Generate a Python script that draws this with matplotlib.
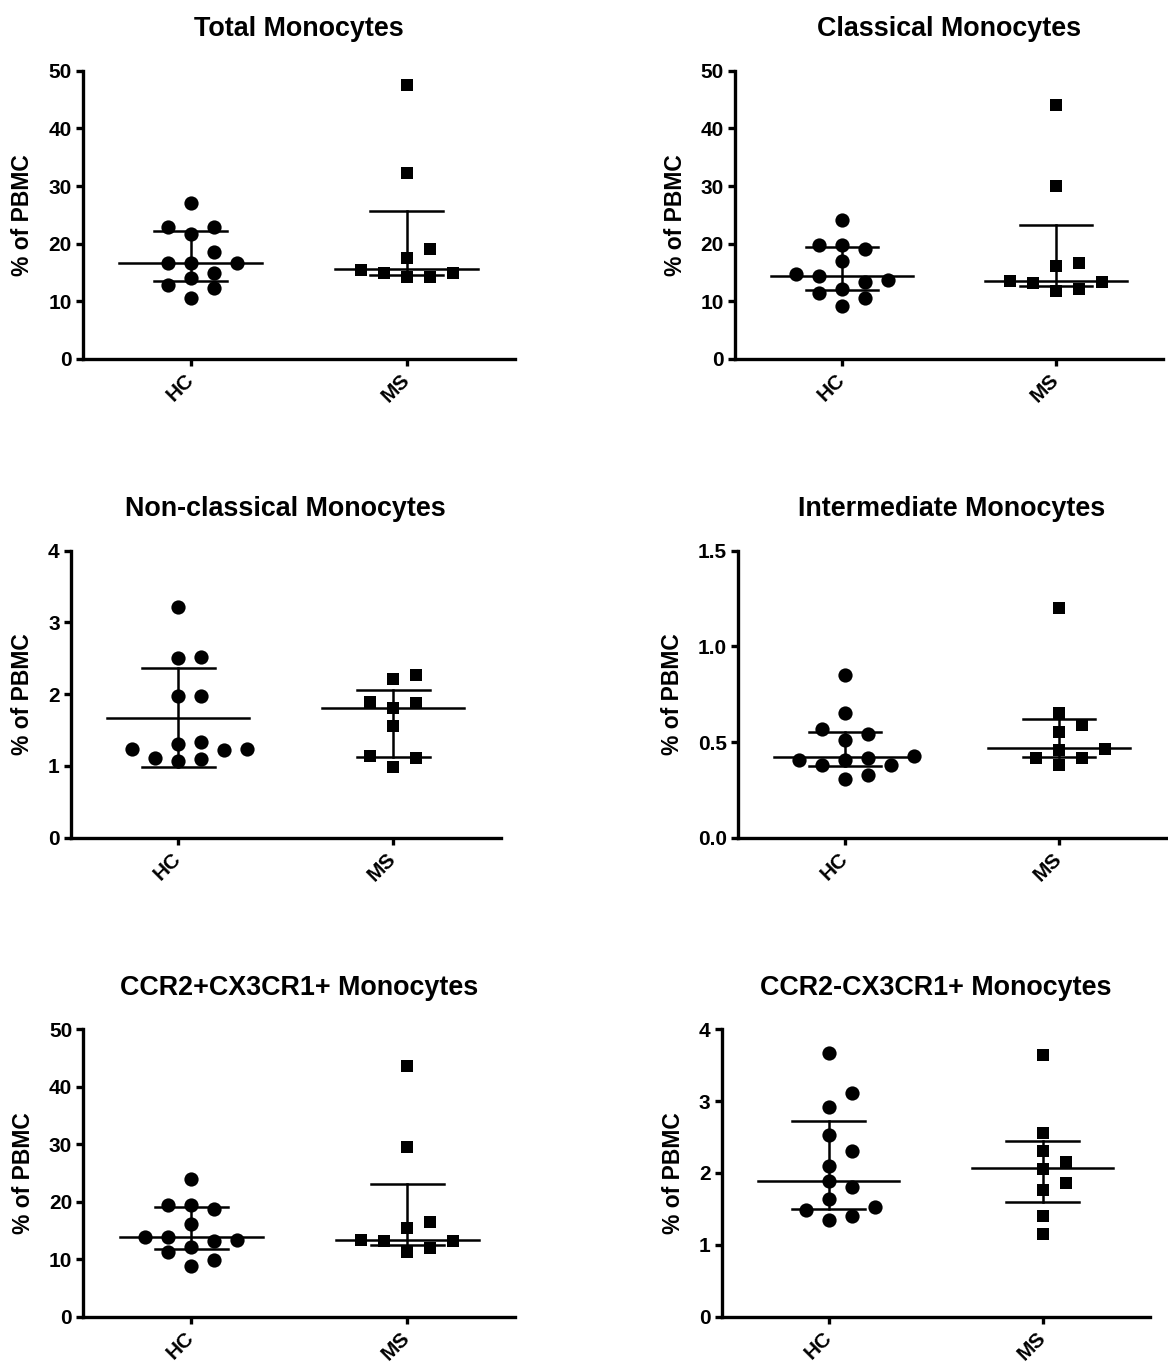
import matplotlib
matplotlib.use("Agg")
import matplotlib.pyplot as plt
import numpy as np

plt.rcParams['font.family'] = ['Liberation Sans', 'DejaVu Sans']
plt.rcParams['font.weight'] = 'bold'

groups = ["HC", "MS"]
titles = ["Total Monocytes", "Classical Monocytes", "Non-classical Monocytes",
          "Intermediate Monocytes", "CCR2+CX3CR1+ Monocytes", "CCR2-CX3CR1+ Monocytes"]
ymax = [50, 50, 4, 1.5, 50, 4]
ystep = [10, 10, 1, 0.5, 10, 1]

# values, % of PBMC
total_hc = [27.0, 22.9, 22.9, 21.6, 18.5, 16.7, 16.7, 16.7, 15.0, 14.0, 12.9, 12.3, 10.6]
total_ms = [47.5, 32.2, 19.0, 17.6, 15.5, 14.9, 14.9, 14.3, 14.3]
classical_hc = [24.1, 19.8, 19.8, 19.0, 17.0, 14.7, 14.4, 13.7, 13.4, 12.1, 11.4, 10.5, 9.2]
classical_ms = [44.0, 30.0, 16.6, 16.1, 13.5, 13.2, 13.4, 12.1, 11.8]
nonclass_hc = [3.21, 2.50, 2.52, 1.97, 1.97, 1.33, 1.31, 1.23, 1.23, 1.22, 1.09, 1.11, 1.07]
nonclass_ms = [2.27, 2.21, 1.81, 1.89, 1.88, 1.55, 1.14, 1.11, 0.98]
interm_hc = [0.85, 0.65, 0.568, 0.51, 0.54, 0.427, 0.418, 0.406, 0.406, 0.378, 0.378, 0.328, 0.307]
interm_ms = [1.20, 0.65, 0.589, 0.551, 0.463, 0.458, 0.418, 0.418, 0.378]
ccr2pos_hc = [23.9, 19.4, 19.4, 18.7, 16.2, 13.9, 13.9, 13.2, 13.3, 12.1, 11.2, 9.9, 8.9]
ccr2pos_ms = [43.6, 29.5, 16.4, 15.5, 13.3, 13.2, 13.2, 11.9, 11.3]
ccr2neg_hc = [3.675, 3.12, 2.92, 2.53, 2.30, 2.10, 1.89, 1.80, 1.64, 1.52, 1.48, 1.40, 1.34]
ccr2neg_ms = [3.64, 2.56, 2.31, 2.16, 2.06, 1.86, 1.77, 1.40, 1.15]

# centre line and error bar ends as drawn in the figure: (HC, MS)
centre = [(16.7, 15.55), (14.4, 13.5), (1.67, 1.81), (0.420, 0.467), (13.9, 13.3), (1.89, 2.07)]
err_lo = [(13.5, 14.57), (11.9, 12.6), (0.98, 1.12), (0.376, 0.420), (11.7, 12.5), (1.50, 1.59)]
err_hi = [(22.25, 25.7), (19.4, 23.3), (2.37, 2.06), (0.552, 0.618), (19.1, 23.0), (2.73, 2.44)]

data = [(total_hc, total_ms), (classical_hc, classical_ms), (nonclass_hc, nonclass_ms),
        (interm_hc, interm_ms), (ccr2pos_hc, ccr2pos_ms), (ccr2neg_hc, ccr2neg_ms)]

W, H = 1168, 1365
# axes boxes in pixels: left, right, top, bottom
boxes = [(82.7, 514.7, 70.7, 359), (735, 1163, 70.7, 359),
         (70.8, 500.8, 550.7, 837.7), (738, 1166, 550.7, 837.7),
         (83.3, 515.3, 1029.3, 1316.7), (721.7, 1149.7, 1029.3, 1316.7)]


def swarm(vals, ypx, xpx, step=23.0, dm=15.0):
    # simple column scatter: put each point as near the centre as it fits
    vals = np.asarray(vals, float)
    offs = np.zeros(len(vals))
    placed = []
    cands = [0]
    for k in range(1, 20):
        cands += [k, -k]
    for i in np.argsort(vals):
        y = vals[i] * ypx
        for k in cands:
            x = k * step / 2
            if all(abs(x - px) >= step * 0.98 or abs(y - py) >= dm for px, py in placed):
                break
        placed.append((x, y))
        offs[i] = x / xpx
    return offs


fig = plt.figure(figsize=(W / 100, H / 100), dpi=100)

for n in range(6):
    l, r, t, b = boxes[n]
    ax = fig.add_axes([l / W, (H - b) / H, (r - l) / W, (b - t) / H])
    ax.set_xlim(-0.5, 1.5)
    ax.set_ylim(0, ymax[n])
    ypx = (b - t) / ymax[n]
    xpx = (r - l) / 2.0

    for g in range(2):
        vals = data[n][g]
        xs = g + swarm(vals, ypx, xpx)
        ax.scatter(xs, vals, s=105 if g == 0 else 70, marker='o' if g == 0 else 's',
                   color='black', linewidths=0, zorder=3, clip_on=False)
        ax.plot([g - 0.33, g + 0.33], [centre[n][g]] * 2, color='black', lw=1.8, zorder=2)
        ax.plot([g - 0.17, g + 0.17], [err_lo[n][g]] * 2, color='black', lw=1.8, zorder=2)
        ax.plot([g - 0.17, g + 0.17], [err_hi[n][g]] * 2, color='black', lw=1.8, zorder=2)
        ax.plot([g, g], [err_lo[n][g], err_hi[n][g]], color='black', lw=1.8, zorder=2)

    ticks = np.arange(0, ymax[n] + 1e-9, ystep[n])
    ax.set_yticks(ticks)
    if ystep[n] < 1:
        ax.set_yticklabels(["%.1f" % v for v in ticks])
    else:
        ax.set_yticklabels(["%d" % v for v in ticks])
    ax.set_xticks([0, 1])
    ax.set_xticklabels(groups, rotation=45, ha='right', va='center', rotation_mode='anchor')

    for side in ['top', 'right']:
        ax.spines[side].set_visible(False)
    for side in ['left', 'bottom']:
        ax.spines[side].set_linewidth(2.4)
    ax.tick_params(axis='both', width=2.4, length=5, labelsize=15, pad=3)
    ax.tick_params(axis='x', pad=8)
    ax.set_ylabel("% of PBMC", fontsize=16.5, fontweight='bold', labelpad=10)
    ax.set_title(titles[n], fontsize=19.4, fontweight='bold', pad=25)

fig.savefig("out.png", dpi=100)
